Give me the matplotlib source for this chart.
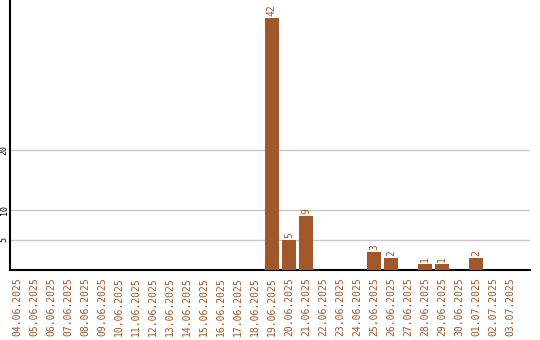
import numpy as np
import matplotlib as mpl
mpl.use('Agg')
import matplotlib.pyplot as plt

dates = ['04.06.2025', '05.06.2025', '06.06.2025', '07.06.2025', '08.06.2025',
         '09.06.2025', '10.06.2025', '11.06.2025', '12.06.2025', '13.06.2025',
         '14.06.2025', '15.06.2025', '16.06.2025', '17.06.2025', '18.06.2025',
         '19.06.2025', '20.06.2025', '21.06.2025', '22.06.2025', '23.06.2025',
         '24.06.2025', '25.06.2025', '26.06.2025', '27.06.2025', '28.06.2025',
         '29.06.2025', '30.06.2025', '01.07.2025', '02.07.2025', '03.07.2025']
counts = [0, 0, 0, 0, 0, 0, 0, 0, 0, 0, 0, 0, 0, 0, 0,
          42, 5, 9, 0, 0, 0, 3, 2, 0, 1, 1, 0, 2, 0, 0]
yticks = [5, 10, 20]

brown = '#a0572a'
plt.rcParams['font.family'] = 'DejaVu Sans Mono'

fig = plt.figure(figsize=(5.4, 3.4), dpi=100)
ax = fig.add_axes([10/540, 70/340, 520/540, 270/340])

x = np.arange(len(dates))
ax.bar(x, counts, width=0.82, color=brown, zorder=3)
for xi, c in zip(x, counts):
    if c > 0:
        ax.text(xi, c + 0.4, str(c), rotation=90, ha='center', va='bottom',
                fontsize=7, color=brown, zorder=4)

ax.set_xlim(-0.41, 30.18)
ax.set_ylim(0, 45)
ax.set_yticks(yticks)
ax.set_yticklabels([str(t) for t in yticks], rotation=90, va='center', fontsize=6)
ax.set_xticks(x)
ax.set_xticklabels(dates, rotation=90, fontsize=7, color=brown)
ax.tick_params(axis='both', length=0)
ax.tick_params(axis='y', pad=1)
ax.tick_params(axis='x', pad=5)
ax.grid(axis='y', color='#c8c8c8', linewidth=1, zorder=0)

for s in ['top', 'right']:
    ax.spines[s].set_visible(False)
for s in ['left', 'bottom']:
    ax.spines[s].set_linewidth(1.5)
    ax.spines[s].set_color('black')

fig.savefig('out.png', dpi=100)
